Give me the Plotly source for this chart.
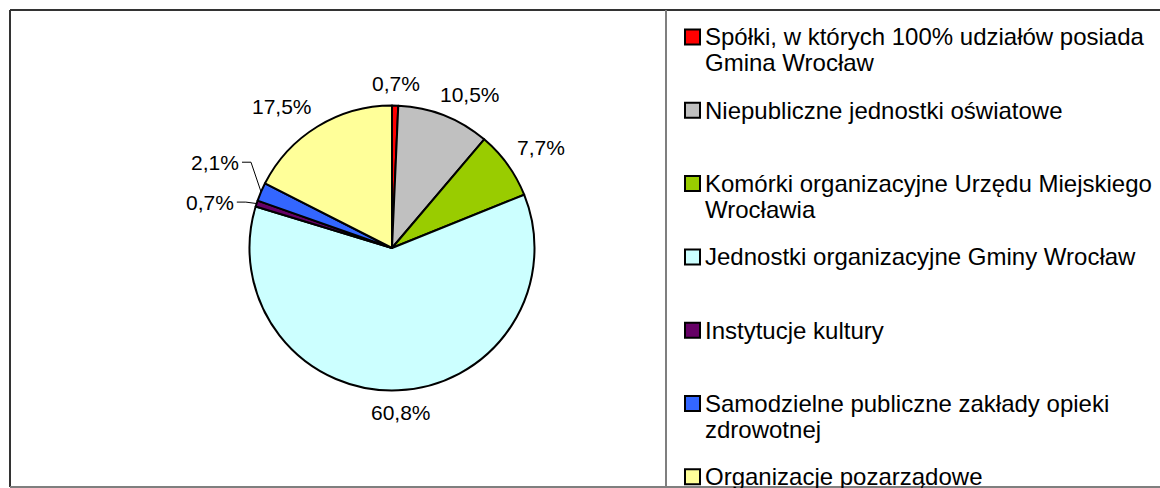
import math
import plotly.graph_objects as go

categories = [
    "Spółki, w których 100% udziałów posiada<br>Gmina Wrocław",
    "Niepubliczne jednostki oświatowe",
    "Komórki organizacyjne Urzędu Miejskiego<br>Wrocławia",
    "Jednostki organizacyjne Gminy Wrocław",
    "Instytucje kultury",
    "Samodzielne publiczne zakłady opieki<br>zdrowotnej",
    "Organizacje pozarządowe",
]
values = [0.7, 10.5, 7.7, 60.8, 0.7, 2.1, 17.5]
colors = ["#FF0000", "#C0C0C0", "#99CC00", "#CCFFFF", "#660066", "#3366FF", "#FFFF99"]

W, H = 1160, 488
FONT = "Liberation Sans, Arial, sans-serif"
LABEL_SIZE = 21
LEGEND_SIZE = 24


def px(x):
    return x / W


def py(y):
    return 1 - y / H


# pie geometry (pixels)
cx, cy, r = 392, 248, 142.5

fig = go.Figure()
fig.add_trace(go.Pie(
    labels=[c.replace("<br>", " ") for c in categories],
    values=values,
    sort=False,
    direction="clockwise",
    rotation=0,
    marker=dict(colors=colors, line=dict(color="#000000", width=2)),
    textinfo="none",
    hoverinfo="label+percent",
    showlegend=False,
    domain=dict(x=[px(cx - r), px(cx + r)], y=[py(cy + r), py(cy - r)]),
))

shapes = []
annotations = []

# ---- data labels, placed from the slice angles ----
CHAR_W = {",": 0.278, "%": 0.889}
total = sum(values)
texts = [f"{v / total * 100:.1f}".replace(".", ",") + "%" for v in values]


def text_w(s):
    return sum(CHAR_W.get(ch, 0.556) for ch in s) * LABEL_SIZE


def clip(v):
    return max(-1.0, min(1.0, v))


mids = []
acc = 0.0
for v in values:
    mids.append(math.radians((acc + v / 2) / total * 360))
    acc += v


def place(theta, w, h, gap):
    d = r + gap
    ax = cx + d * math.sin(theta)
    ay = cy - d * math.cos(theta)
    return (ax + w / 2 * clip(2 * math.sin(theta)),
            ay - h / 2 * clip(2 * math.cos(theta)))


h_lab = LABEL_SIZE * 0.95
boxes = []
for t, s in zip(mids, texts):
    x, y = place(t, text_w(s), h_lab, 12)
    boxes.append([x, y, text_w(s)])

n = len(values)
crowded = set()
for i in range(n):
    j = (i + 1) % n
    xi, yi, wi = boxes[i]
    xj, yj, wj = boxes[j]
    if abs(xi - xj) < (wi + wj) / 2 and abs(yi - yj) < h_lab:
        crowded |= {i, j}

moved = sorted(crowded)
if moved:
    for i in moved:
        x, y = place(mids[i], boxes[i][2], h_lab, 24)
        boxes[i][0], boxes[i][1] = x, y
    order = sorted(moved, key=lambda k: boxes[k][1])
    mean_y = sum(boxes[k][1] for k in order) / len(order)
    sep = 2 * h_lab
    for rank, k in enumerate(order):
        boxes[k][1] = mean_y + (rank - (len(order) - 1) / 2) * sep

for i, (s, (x, y, w)) in enumerate(zip(texts, boxes)):
    annotations.append(dict(xref="paper", yref="paper", x=px(x), y=py(y),
                            xanchor="center", yanchor="middle", showarrow=False,
                            text=s, font=dict(family=FONT, size=LABEL_SIZE, color="#000000")))
    if i in crowded:
        side = 1 if math.sin(mids[i]) < 0 else -1  # label left of pie -> line from its right edge
        x_start = x + side * (w / 2 + 3)
        x_knee = x_start + side * 9
        ex = cx + r * math.sin(mids[i])
        ey = cy - r * math.cos(mids[i])
        for (x0, y0, x1, y1) in [(x_start, y, x_knee, y), (x_knee, y, ex, ey)]:
            shapes.append(dict(type="line", xref="paper", yref="paper",
                               x0=px(x0), y0=py(y0), x1=px(x1), y1=py(y1),
                               line=dict(color="#000000", width=1)))

# ---- outer frame (top, left, bottom) and legend separator ----
frame = [
    (10, 10, W + 20, 10, "#333333"),
    (10, 10, 10, 487, "#333333"),
    (10, 487, W + 20, 487, "#7F7F7F"),
    (666, 10, 666, 487, "#7F7F7F"),
]
for (x0, y0, x1, y1, c) in frame:
    shapes.append(dict(type="line", xref="paper", yref="paper",
                       x0=px(x0), y0=py(y0), x1=px(x1), y1=py(y1),
                       line=dict(color=c, width=2)))

# ---- legend ----
leg_top = 37
leg_step = 73.3
line_h = 26
sq = 15
for i, (lab, col) in enumerate(zip(categories, colors)):
    yc = leg_top + i * leg_step
    shapes.append(dict(type="rect", xref="paper", yref="paper",
                       x0=px(685), x1=px(685 + sq), y0=py(yc + sq / 2), y1=py(yc - sq / 2),
                       line=dict(color="#000000", width=2), fillcolor=col))
    for j, part in enumerate(lab.split("<br>")):
        annotations.append(dict(xref="paper", yref="paper", x=px(703), y=py(yc + j * line_h),
                                xanchor="left", yanchor="middle", showarrow=False,
                                text=part, font=dict(family=FONT, size=LEGEND_SIZE, color="#000000")))

fig.update_layout(
    width=W, height=H,
    margin=dict(l=0, r=0, t=0, b=0),
    paper_bgcolor="#FFFFFF",
    plot_bgcolor="#FFFFFF",
    separators=", ",
    shapes=shapes,
    annotations=annotations,
    showlegend=False,
)

fig.write_html("out.html",
               config={"displayModeBar": False},
               post_script="document.body.style.margin='0';document.body.style.overflow='hidden';")
